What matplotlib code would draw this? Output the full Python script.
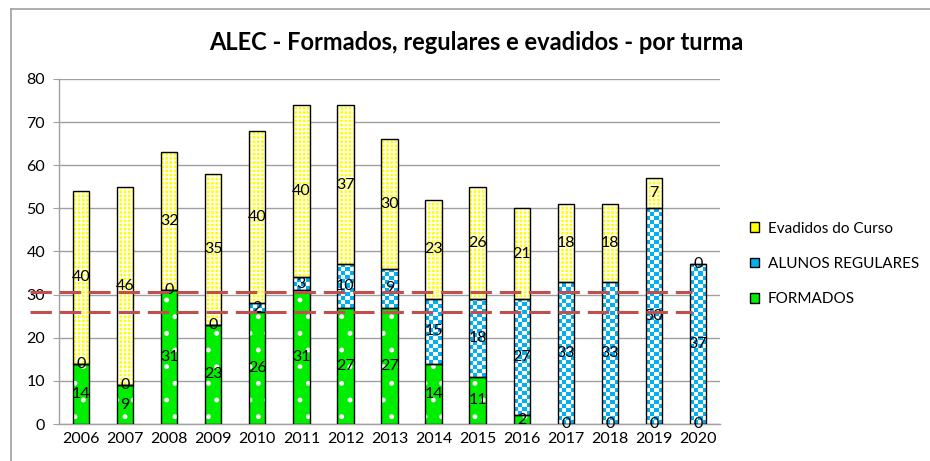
import numpy as np
import matplotlib
matplotlib.use("Agg")
import matplotlib.pyplot as plt
from matplotlib.lines import Line2D
import matplotlib.transforms as mtransforms

years = ["2006", "2007", "2008", "2009", "2010", "2011", "2012", "2013",
         "2014", "2015", "2016", "2017", "2018", "2019", "2020"]
formados = [14, 9, 31, 23, 26, 31, 27, 27, 14, 11, 2, 0, 0, 0, 0]
regulares = [0, 0, 0, 0, 2, 3, 10, 9, 15, 18, 27, 33, 33, 50, 37]
evadidos = [40, 46, 32, 35, 40, 40, 37, 30, 23, 26, 21, 18, 18, 7, 0]
ref_lines = [30.6, 26.0]
title = "ALEC - Formados, regulares e evadidos - por turma"
labels = ["FORMADOS", "ALUNOS REGULARES", "Evadidos do Curso"]

plt.rcParams['font.family'] = ['Lato', 'DejaVu Sans']
plt.rcParams['hatch.linewidth'] = 1.1

W, H = 930, 461
fig = plt.figure(figsize=(W / 100, H / 100), dpi=100)
ax = fig.add_axes([59 / W, 1 - 424 / H, (720 - 59) / W, (424 - 79) / H])

x = np.arange(len(years))
f = np.array(formados)
r = np.array(regulares)
e = np.array(evadidos)
bw = 0.37

GREEN = "#00EE00"
BLUE = "#00B0F0"
YELLOW = "#FFFF00"

# Formados: green with white dots
ax.bar(x, f, bw, color=GREEN, edgecolor="white", hatch=".", linewidth=0, zorder=2)
ax.bar(x, f, bw, fill=False, edgecolor="black", linewidth=1.0, zorder=4)

# Regulares: blue/white checkerboard
rb = ax.bar(x, r, bw, bottom=f, color="white", linewidth=0, zorder=2)
n = 60
cb = (np.indices((n * 4, 4)).sum(axis=0) % 2)
cmap = matplotlib.colors.ListedColormap(["white", BLUE])
sq = 4 / 4.31  # data units per square (approx. 4 px)
for patch, xi, b, h in zip(rb.patches, x, f, r):
    if h <= 0:
        continue
    nrows = int(np.ceil(h / sq)) + 1
    img = cb[:nrows][::-1]
    im = ax.imshow(img, cmap=cmap, interpolation="nearest", aspect="auto",
                   extent=(xi - bw / 2, xi + bw / 2, b, b + nrows * sq),
                   zorder=3, vmin=0, vmax=1)
    im.set_clip_path(patch)
ax.bar(x, r, bw, bottom=f, fill=False, edgecolor="black", linewidth=1.0, zorder=4)

# Evadidos: yellow with white grid
ax.bar(x, e, bw, bottom=f + r, color=YELLOW, edgecolor="white", hatch="++++",
       linewidth=0, zorder=2)
ax.bar(x, e, bw, bottom=f + r, fill=False, edgecolor="black", linewidth=1.0, zorder=4)

# value labels
fs = 11.5
for xi, a, b, c in zip(x, f, r, e):
    ax.text(xi, a / 2, str(a), ha="center", va="center", fontsize=fs, zorder=6)
    ax.text(xi, a + b / 2, str(b), ha="center", va="center", fontsize=fs, zorder=6)
    ax.text(xi, a + b + c / 2, str(c), ha="center", va="center", fontsize=fs, zorder=6)

ax.set_xlim(-0.5, len(years) - 0.5)
ax.set_ylim(0, 80)
ax.set_yticks(np.arange(0, 81, 10))
ax.set_xticks(x)
ax.set_xticklabels(years)
ax.tick_params(axis="x", length=0, labelsize=11.5, pad=6)
ax.tick_params(axis="y", length=4, color="#A0A0A0", labelsize=11.5, pad=6)
ax.yaxis.grid(True, color="#A0A0A0", linewidth=1.0, zorder=0)
ax.set_axisbelow(True)
for s in ["top", "right"]:
    ax.spines[s].set_visible(False)
for s in ["left", "bottom"]:
    ax.spines[s].set_color("#A0A0A0")
    ax.spines[s].set_linewidth(1.0)

fig.text(476 / W, 1 - 42 / H, title, ha="center", va="center",
         fontsize=17, fontweight="bold")

# legend
handles = [
    matplotlib.patches.Patch(facecolor=YELLOW, edgecolor="black", linewidth=1.0),
    matplotlib.patches.Patch(facecolor=BLUE, edgecolor="black", linewidth=1.0),
    matplotlib.patches.Patch(facecolor=GREEN, edgecolor="black", linewidth=1.0),
]
fig.legend(handles, [labels[2], labels[1], labels[0]], loc="center left",
           bbox_to_anchor=(736 / W, 1 - 264 / H), frameon=False, fontsize=11,
           handlelength=0.6, handleheight=0.6, handletextpad=0.6, labelspacing=1.4)

# reference dashed lines (drawn over bars, starting left of the axis)
tr = mtransforms.blended_transform_factory(fig.transFigure, ax.transData)
for yv in ref_lines:
    ln = Line2D([30 / W, 692 / W], [yv, yv], transform=tr, color="#C0504D",
                linewidth=2.2, linestyle=(0, (7, 2.6)), zorder=10)
    fig.add_artist(ln)

# chart border
fig.add_artist(Line2D([11 / W, 1], [1 - 9 / H, 1 - 9 / H], transform=fig.transFigure,
                      color="#A0A0A0", linewidth=1.2))
fig.add_artist(Line2D([11 / W, 11 / W], [0, 1 - 9 / H], transform=fig.transFigure,
                      color="#A0A0A0", linewidth=1.2))

fig.savefig("out.png", dpi=100)
